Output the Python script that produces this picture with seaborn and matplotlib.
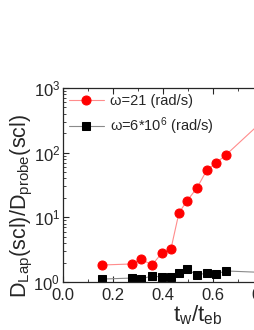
import numpy as np
import pandas as pd
import seaborn as sns
import matplotlib
matplotlib.use("Agg")
import matplotlib.pyplot as plt
from matplotlib.ticker import MultipleLocator, LogLocator, NullFormatter

# waiting time / ergodicity-breaking time
TW_RATIO = [0.156, 0.276, 0.312, 0.356, 0.396, 0.432, 0.464, 0.496, 0.536, 0.576, 0.612, 0.652, 0.85]
# ratio D_Lap / D_probe for the two frequencies
D_LOW_FREQ = [1.83, 1.90, 2.27, 1.83, 2.81, 3.24, 11.7, 17.9, 28.4, 54, 69, 92, 470]
D_HIGH_FREQ = [1.11, 1.15, 1.11, 1.24, 1.19, 1.19, 1.38, 1.59, 1.28, 1.38, 1.33, 1.48, 1.38]
LABELS = ["ω=21 (rad/s)", "ω=6*10$^{6}$ (rad/s)"]

sns.set_style("ticks")
plt.rcParams["font.family"] = ["Liberation Sans", "DejaVu Sans"]
plt.rcParams["mathtext.fontset"] = "custom"
plt.rcParams["mathtext.rm"] = "Liberation Sans"
plt.rcParams["mathtext.it"] = "Liberation Sans"
plt.rcParams["xtick.direction"] = "in"
plt.rcParams["ytick.direction"] = "in"

df = pd.DataFrame({"x": TW_RATIO, "low": D_LOW_FREQ, "high": D_HIGH_FREQ})

fig = plt.figure(figsize=(2.55, 3.3), dpi=100)
ax = fig.add_axes([0.247, 0.1455, 0.98, 0.588])

sns.lineplot(data=df, x="x", y="low", ax=ax, color="#ff8c8c", linewidth=0.8,
             marker="o", markersize=6.5, markerfacecolor="red", markeredgecolor="red",
             label=LABELS[0])
sns.lineplot(data=df, x="x", y="high", ax=ax, color="#8a8a8a", linewidth=0.8,
             marker="s", markersize=5.5, markerfacecolor="black", markeredgecolor="black",
             label=LABELS[1])

ax.set_yscale("log")
ax.set_ylim(1, 1000)
ax.set_xlim(0, 1.0)
ax.xaxis.set_major_locator(MultipleLocator(0.2))
ax.xaxis.set_minor_locator(MultipleLocator(0.1))
ax.yaxis.set_minor_locator(LogLocator(base=10, subs=np.arange(2, 10)))
ax.yaxis.set_minor_formatter(NullFormatter())
ax.xaxis.set_major_formatter(matplotlib.ticker.FormatStrFormatter("%.1f"))

ax.tick_params(axis="both", which="major", labelsize=12, length=4, width=0.8, top=True, right=True)
ax.tick_params(axis="x", which="major", pad=4)
ax.tick_params(axis="y", which="major", pad=2)
ax.tick_params(axis="both", which="minor", length=2, width=0.6, top=True, right=True)
for s in ax.spines.values():
    s.set_linewidth(0.9)

ax.set_xlabel(r"$\mathregular{t_w/t_{eb}}$", fontsize=16)
ax.xaxis.set_label_coords(0.54, -0.112)
ax.set_ylabel(r"$\mathregular{D_{Lap}(scl)/D_{probe}(scl)}$", fontsize=15.5)
ax.yaxis.set_label_coords(-0.112, 0.39)

ax.legend(loc="upper left", frameon=False, fontsize=10.5, handlelength=2.4,
          handletextpad=0.4, borderaxespad=0.1, borderpad=0.3, labelspacing=0.5)

fig.savefig("out.png", dpi=100)
